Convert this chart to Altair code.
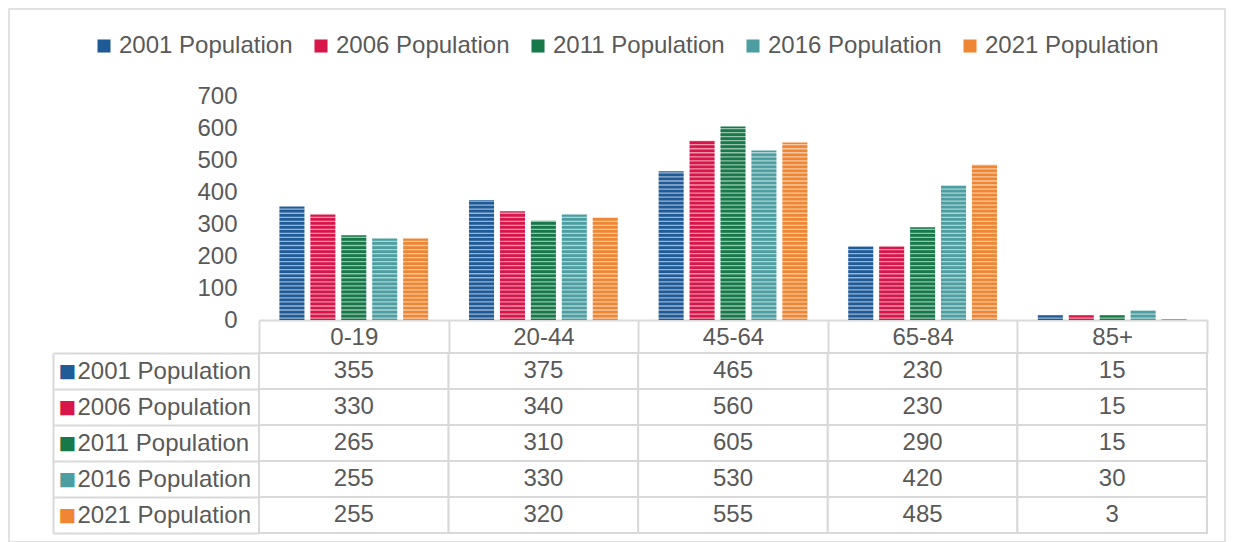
import altair as alt
import pandas as pd

categories = ["0-19", "20-44", "45-64", "65-84", "85+"]
series = ["2001 Population", "2006 Population", "2011 Population",
          "2016 Population", "2021 Population"]
pop_2001 = [355, 375, 465, 230, 15]
pop_2006 = [330, 340, 560, 230, 15]
pop_2011 = [265, 310, 605, 290, 15]
pop_2016 = [255, 330, 530, 420, 30]
pop_2021 = [255, 320, 555, 485, 3]
colors = ["#1F5B97", "#D8164A", "#17784A", "#4C9EA1", "#EF8633"]
y_ticks = [0, 100, 200, 300, 400, 500, 600, 700]

rows = []
for s, vals in zip(series, [pop_2001, pop_2006, pop_2011, pop_2016, pop_2021]):
    for c, v in zip(categories, vals):
        rows.append({"series": s, "group": c, "value": v, "label": str(v)})
df = pd.DataFrame(rows)

TXT = "#595959"
GRID = "#D9D9D9"
FONT = "Liberation Sans"
FS = 24

x_scale = alt.Scale(domain=categories, paddingInner=0, paddingOuter=0)
y_scale = alt.Scale(domain=[0, 700], nice=False)
color_scale = alt.Scale(domain=series, range=colors)
row_scale = alt.Scale(domain=series, paddingInner=0, paddingOuter=0)

y_axis = alt.Axis(title=None, values=y_ticks, ticks=False, domain=False, grid=False,
                  labelPadding=22, labelFontSize=FS, labelColor=TXT, labelFont=FONT)

# chart-area border (decoration only)
frame = alt.Chart(alt.Data(values=[{}])).mark_rect(
    fillOpacity=0, stroke=GRID, strokeWidth=1.5
).encode(x=alt.value(-250), x2=alt.value(966), y=alt.value(-87), y2=alt.value(446))

bars = alt.Chart(df).mark_bar().encode(
    x=alt.X("group:N", sort=categories, scale=x_scale,
            axis=alt.Axis(title=None, labelAngle=0, tickBand="extent", tickSize=33,
                          tickColor=GRID, tickWidth=2, domainColor=GRID, domainWidth=2,
                          labelPadding=-28, labelFontSize=FS, labelColor=TXT,
                          labelFont=FONT)),
    xOffset=alt.XOffset("series:N", sort=series,
                        scale=alt.Scale(paddingInner=0.19, paddingOuter=0.66)),
    y=alt.Y("value:Q", scale=y_scale, axis=y_axis),
    color=alt.Color("series:N", scale=color_scale,
                    legend=alt.Legend(title=None, orient="none", legendX=-167, legendY=-62,
                                      direction="horizontal",
                                      symbolType="square", symbolSize=170,
                                      symbolStrokeWidth=0, labelFontSize=FS,
                                      labelColor=TXT, labelFont=FONT, labelLimit=400,
                                      columnPadding=16, labelOffset=3)),
)

stripes = alt.Chart(alt.sequence(6, 700, 12.6, as_="s")).mark_rule(
    color="white", strokeWidth=1.3, opacity=0.55
).encode(y=alt.Y("s:Q", scale=y_scale, axis=y_axis))

top = alt.layer(frame, bars, stripes).properties(width=948, height=224)

label_colors = {
    "condition": [{"test": f"datum.value === '{s}'", "value": c}
                  for s, c in zip(series, colors)],
    "value": TXT,
}

cells = alt.Chart(df).mark_rect(fill="white", stroke=GRID, strokeWidth=2).encode(
    x=alt.X("group:N", sort=categories, scale=x_scale, axis=None),
    y=alt.Y("series:N", sort=series, scale=row_scale,
            axis=alt.Axis(title=None, tickBand="extent", tickSize=206, tickColor=GRID,
                          tickWidth=2, domain=False, labelAlign="left",
                          labelPadding=-24, labelFontSize=FS, labelColor=TXT,
                          labelFont=FONT)),
)

texts = alt.Chart(df).mark_text(fontSize=FS, color=TXT, font=FONT).encode(
    x=alt.X("group:N", sort=categories, scale=x_scale, axis=None),
    y=alt.Y("series:N", sort=series, scale=row_scale,
            axis=alt.Axis(title=None, orient="left", offset=206, ticks=False,
                          tickSize=0, domain=True, domainColor=GRID, domainWidth=2,
                          labelExpr="'■'", labelAlign="left", labelPadding=-5,
                          labelFontSize=18.5, labelColor=label_colors,
                          labelFont="DejaVu Sans")),
    text="label:N",
)

table = alt.layer(cells, texts).resolve_axis(y="independent").properties(
    width=948, height=180)

chart = alt.vconcat(top, table, spacing=33, bounds="flush").properties(
    padding={"left": 0, "top": 0, "right": 0, "bottom": 0}
).configure_view(stroke=None)

chart.save("out.html", embed_options={"renderer": "svg", "actions": False})
